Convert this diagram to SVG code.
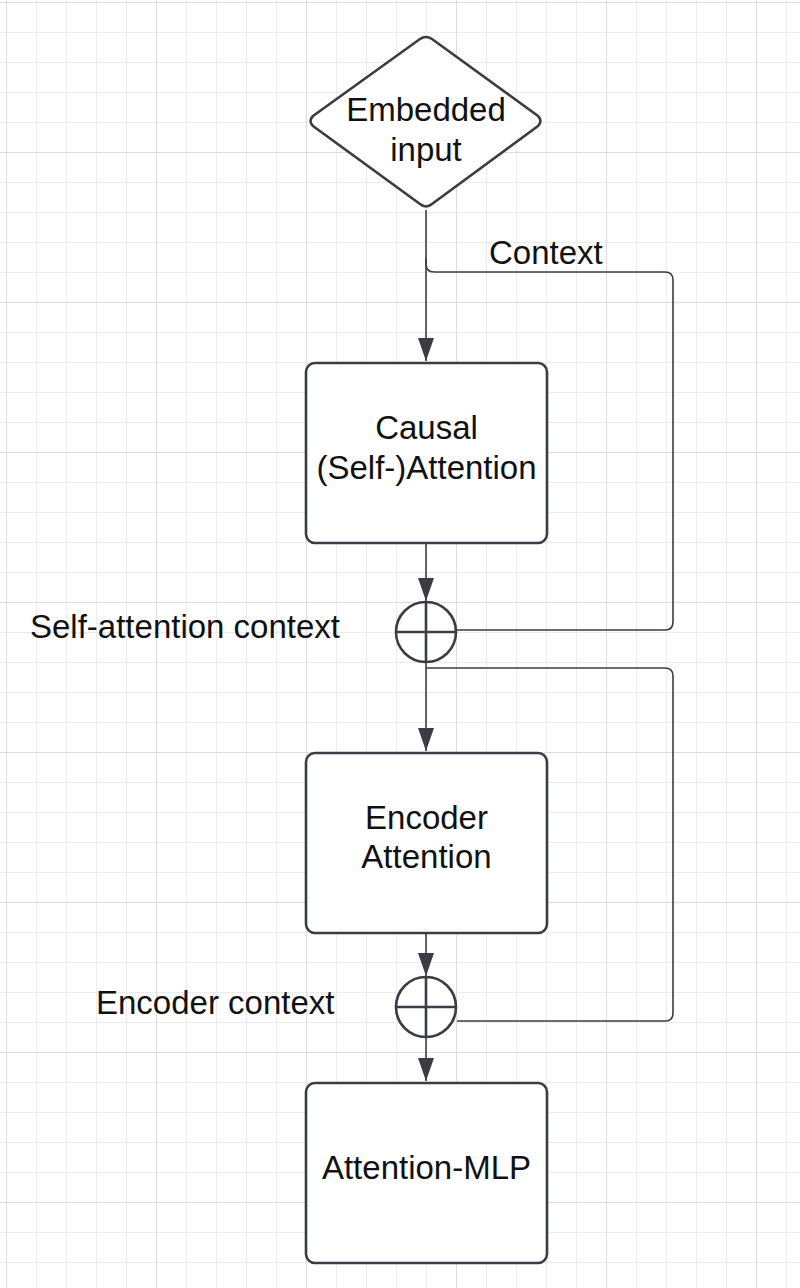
<svg xmlns="http://www.w3.org/2000/svg" width="800" height="1288" viewBox="0 0 800 1288">
  <style>
    .node { fill: #ffffff; stroke: #3a3d44; stroke-width: 2.6; }
    .conn { fill: none; stroke: #3a3d44; stroke-width: 1.6; }
    .sum { fill: #ffffff; stroke: #3a3d44; stroke-width: 2.6; }
    .sumline { stroke: #3a3d44; stroke-width: 2.6; }
    text { font-family: "Liberation Sans", Arial, sans-serif; font-size: 33px; fill: #111111; }
    .c { text-anchor: middle; }
  </style>
  <defs>
    <pattern id="minor" x="6" y="2" width="30" height="30" patternUnits="userSpaceOnUse">
      <path d="M0.5 0 V30 M0 0.5 H30" fill="none" stroke="#ececec" stroke-width="1"/>
    </pattern>
    <pattern id="major" x="6" y="2" width="150" height="150" patternUnits="userSpaceOnUse">
      <path d="M0.5 0 V150 M0 0.5 H150" fill="none" stroke="#dcdcdc" stroke-width="1"/>
    </pattern>
    <marker id="ah" viewBox="0 0 23 16" refX="23" refY="8" markerWidth="23" markerHeight="16" markerUnits="userSpaceOnUse" orient="auto">
      <path d="M0 0 L23 8 L0 16 Z" fill="#3a3d44"/>
    </marker>
  </defs>
  <rect width="800" height="1288" fill="#ffffff"/>
  <rect width="800" height="1288" fill="url(#minor)"/>
  <rect width="800" height="1288" fill="url(#major)"/>

  <g id="connectors">
    <path class="conn" d="M426 210 V361" marker-end="url(#ah)"/>
    <path class="conn" d="M426 258 V264 Q426 272 434 272 H665 Q673 272 673 280 V622 Q673 630 665 630 H457"/>
    <path class="conn" d="M426 544 V601" marker-end="url(#ah)"/>
    <path class="conn" d="M426 662 V751" marker-end="url(#ah)"/>
    <path class="conn" d="M426 668 H665 Q673 668 673 676 V1013 Q673 1021 665 1021 H457"/>
    <path class="conn" d="M426 934 V976" marker-end="url(#ah)"/>
    <path class="conn" d="M426 1037 V1081" marker-end="url(#ah)"/>
  </g>

  <g id="embedded-input">
    <path class="node" d="M420 39 Q426 35 432 39 L538 116 Q543 121 538 126 L432 204 Q426 209 420 204 L313 126 Q308 121 313 116 Z"/>
    <text class="c" x="426" y="121">Embedded</text>
    <text class="c" x="426" y="161">input</text>
  </g>

  <g id="context-label">
    <text x="489" y="264">Context</text>
  </g>

  <g id="causal-attention">
    <rect class="node" x="306" y="363" width="241" height="180" rx="9"/>
    <text class="c" x="426.5" y="439">Causal</text>
    <text class="c" x="426.5" y="479">(Self-)Attention</text>
  </g>

  <g id="sum1">
    <circle class="sum" cx="426" cy="632" r="30"/>
    <line class="sumline" x1="396" y1="632" x2="456" y2="632"/>
    <line class="sumline" x1="426" y1="602" x2="426" y2="662"/>
  </g>

  <g id="self-attention-context-label">
    <text x="30" y="638">Self-attention context</text>
  </g>

  <g id="encoder-attention">
    <rect class="node" x="306" y="753" width="241" height="180" rx="9"/>
    <text class="c" x="426.5" y="829">Encoder</text>
    <text class="c" x="426.5" y="868">Attention</text>
  </g>

  <g id="sum2">
    <circle class="sum" cx="426" cy="1007" r="30"/>
    <line class="sumline" x1="396" y1="1007" x2="456" y2="1007"/>
    <line class="sumline" x1="426" y1="977" x2="426" y2="1037"/>
  </g>

  <g id="encoder-context-label">
    <text x="96" y="1014">Encoder context</text>
  </g>

  <g id="attention-mlp">
    <rect class="node" x="306" y="1083" width="241" height="180" rx="9"/>
    <text class="c" x="426.5" y="1179">Attention-MLP</text>
  </g>
</svg>
